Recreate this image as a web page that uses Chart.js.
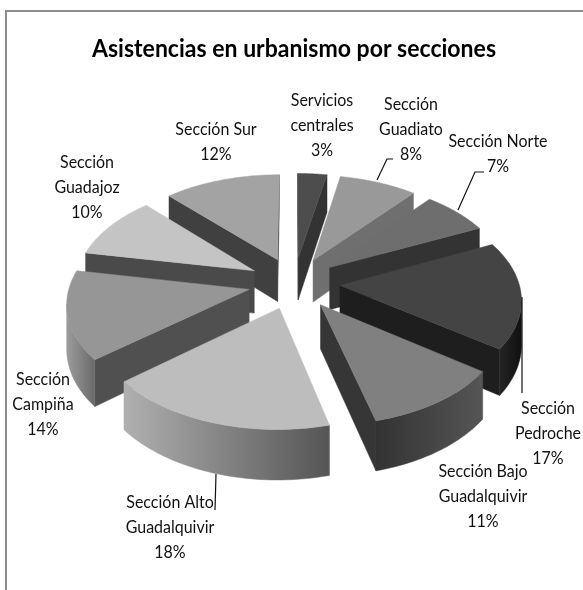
<!DOCTYPE html>
<html>
<head>
<meta charset="utf-8">
<style>
  html, body { margin: 0; background: #fff; }
  #caja { position: relative; width: 583px; height: 590px; overflow: hidden; }
  #grafico { position: absolute; left: 0; top: 0; filter: blur(0.4px); }
</style>
</head>
<body>
<div id="caja"><canvas id="grafico" width="583" height="590"></canvas></div>
<script src="https://cdn.jsdelivr.net/npm/chart.js@4"></script>
<script>
const titulo = 'Asistencias en urbanismo por secciones';
const secciones = [
    ['Servicios', 'centrales'],
    ['Sección', 'Guadiato'],
    ['Sección Norte'],
    ['Sección', 'Pedroche'],
    ['Sección Bajo', 'Guadalquivir'],
    ['Sección Alto', 'Guadalquivir'],
    ['Sección', 'Campiña'],
    ['Sección', 'Guadajoz'],
    ['Sección Sur']
];
const porcentajes = [3, 8, 7, 17, 11, 18, 14, 10, 12];

// colores: cara superior, paredes radiales, pared exterior (izq -> der)
const colorTapa = ['#4d4d4d', '#999999', '#6e6e6e', '#444444', '#808080', '#bdbdbd', '#969696', '#c4c4c4', '#a3a3a3'];
const colorPared = ['#333333', '#6f6f6f', '#333333', '#1e1e1e', '#363636', '#555555', '#505050', '#4a4a4a', '#404040'];
const colorExterior = [
    ['#444', '#333'], ['#777', '#666'], ['#555', '#444'], ['#2a2a2a', '#111'], ['#333', '#555'],
    ['#b0b0b0', '#555'], ['#9c9c9c', '#6a6a6a'], ['#999', '#777'], ['#888', '#666']
];

// posicion de las etiquetas (centro x, y de la primera linea)
const posEtiqueta = [[322, 101], [411, 105], [498, 142], [548, 409], [483, 472], [170, 503], [43, 380], [87, 163], [216, 130]];
const guias = [
    [[393, 159], [387, 159], [377, 180]],
    [[484, 172], [475, 172], [458, 210]],
    [[522, 297], [522, 393]],
    [[216, 474], [215, 510]]
];

const alturaTarta = 43, inclinacion = 0.56, distancia = 1500;

function proyectar(cx, cy, u, v, z) {
    const k = 1 / (1 - v / distancia);
    return [cx + u * k, cy + k * (v * inclinacion + z)];
}

function trazar(ctx, puntos, relleno) {
    ctx.beginPath();
    puntos.forEach((p, i) => i ? ctx.lineTo(p[0], p[1]) : ctx.moveTo(p[0], p[1]));
    ctx.closePath();
    ctx.fillStyle = relleno;
    ctx.strokeStyle = relleno;
    ctx.lineWidth = 0.5;
    ctx.fill();
    ctx.stroke();
}

function areaFirmada(p) {
    let a = 0;
    p.forEach((q, i) => {
        const r = p[(i + 1) % p.length];
        a += q[0] * r[1] - r[0] * q[1];
    });
    return a;
}

const tarta3d = {
    id: 'tarta3d',
    beforeDatasetDraw(chart, args) {
        const ctx = chart.ctx;
        const arcos = args.meta.data.map((arco, i) => {
            const p = arco.getProps(['x', 'y', 'startAngle', 'endAngle', 'outerRadius']);
            const medio = (p.startAngle + p.endAngle) / 2;
            const sep = arco.options.offset;
            return { i, p, du: Math.cos(medio) * sep, dv: Math.sin(medio) * sep };
        });
        // de atras hacia delante
        arcos.sort((a, b) => a.dv - b.dv);
        arcos.forEach(({ i, p, du, dv }) => {
            const pasos = 40, borde = [];
            for (let n = 0; n <= pasos; n++) {
                const ang = p.startAngle + (p.endAngle - p.startAngle) * n / pasos;
                borde.push([du + Math.cos(ang) * p.outerRadius, dv + Math.sin(ang) * p.outerRadius]);
            }
            const pr = (q, z) => proyectar(p.x, p.y, q[0], q[1], z);
            const apice = [du, dv];
            const cuad = (a, b) => [pr(a, 0), pr(b, 0), pr(b, alturaTarta), pr(a, alturaTarta)];
            const pared = (a, b, color) => {
                if (areaFirmada(cuad(a, b)) < 0) trazar(ctx, cuad(a, b), color);
            };
            pared(apice, borde[0], colorPared[i]);
            pared(borde[pasos], apice, colorPared[i]);

            // pared exterior: solo el tramo que mira al espectador, en un solo poligono
            const frente = [];
            for (let n = 0; n <= pasos; n++) {
                const vis = (n < pasos && areaFirmada(cuad(borde[n], borde[n + 1])) < 0)
                    || (n > 0 && areaFirmada(cuad(borde[n - 1], borde[n])) < 0);
                if (vis) frente.push(borde[n]);
            }
            if (frente.length > 1) {
                const xs = borde.map(q => pr(q, 0)[0]);
                const grad = ctx.createLinearGradient(Math.min(...xs), 0, Math.max(...xs), 0);
                grad.addColorStop(0, colorExterior[i][0]);
                grad.addColorStop(1, colorExterior[i][1]);
                trazar(ctx, [...frente.map(q => pr(q, 0)), ...frente.slice().reverse().map(q => pr(q, alturaTarta))], grad);
            }

            trazar(ctx, [pr(apice, 0), ...borde.map(q => pr(q, 0))], colorTapa[i]);
        });
        return false;
    },
    afterDraw(chart) {
        const ctx = chart.ctx;
        ctx.save();
        ctx.strokeStyle = '#111';
        ctx.lineWidth = 1.2;
        guias.forEach(g => {
            ctx.beginPath();
            g.forEach((p, i) => i ? ctx.lineTo(p[0], p[1]) : ctx.moveTo(p[0], p[1]));
            ctx.stroke();
        });
        ctx.fillStyle = '#111';
        ctx.font = '17px Lato';
        ctx.textAlign = 'center';
        ctx.textBaseline = 'middle';
        secciones.forEach((lineas, i) => {
            const [x, y] = posEtiqueta[i];
            [...lineas, porcentajes[i] + '%'].forEach((t, n) => {
                ctx.fillText(t, x, y + n * 25, ctx.measureText(t).width * 0.94);
            });
        });
        ctx.restore();
    }
};

new Chart(document.getElementById('grafico'), {
    type: 'pie',
    data: {
        labels: secciones.map(s => s.join(' ')),
        datasets: [{
            data: porcentajes,
            backgroundColor: colorTapa,
            borderWidth: 0,
            offset: 46
        }]
    },
    options: {
        responsive: false,
        animation: false,
        layout: { padding: { left: 92, right: 87, top: 0, bottom: 105 } },
        plugins: {
            legend: { display: false },
            tooltip: { enabled: false },
            title: {
                display: true,
                text: titulo,
                color: '#000',
                font: { family: 'Lato', size: 24.1, weight: 'bold' },
                padding: { top: 35, bottom: 17 }
            }
        }
    },
    plugins: [tarta3d]
});

// marco gris del grafico
const ctxMarco = document.getElementById('grafico').getContext('2d');
ctxMarco.save();
ctxMarco.strokeStyle = '#8c8c8c';
ctxMarco.lineWidth = 2;
ctxMarco.beginPath();
ctxMarco.moveTo(6, 590);
ctxMarco.lineTo(6, 11);
ctxMarco.lineTo(583, 11);
ctxMarco.stroke();
ctxMarco.restore();
</script>
</body>
</html>
